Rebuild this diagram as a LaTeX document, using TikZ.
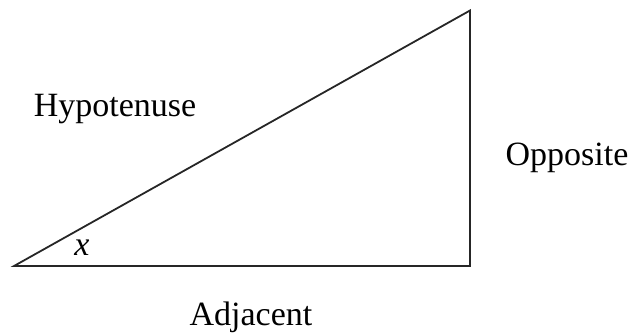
\documentclass[tikz,border=0pt]{standalone}
\usepackage{fontspec}
\setmainfont{Liberation Serif}
\begin{document}
\begin{tikzpicture}[
  x=0.5pt, y=-0.5pt,
  side/.style={draw=black!85, line width=0.9pt, line join=miter},
  lbl/.style={font=\fontsize{17}{20}\selectfont, anchor=base, inner sep=0pt},
]
\useasboundingbox (0,0) rectangle (631,334);
\coordinate (A) at (14,266);
\coordinate (B) at (470,266);
\coordinate (C) at (470,10.5);
\draw[side] (A) -- (B) -- (C) -- cycle;
\node[lbl] (hyp) at (115,116) {Hypotenuse};
\node[lbl] (opp) at (567,165) {Opposite};
\node[lbl] (adj) at (251,325) {Adjacent};
\node[lbl] (ang) at (82,255) {\itshape x};
\end{tikzpicture}
\end{document}
